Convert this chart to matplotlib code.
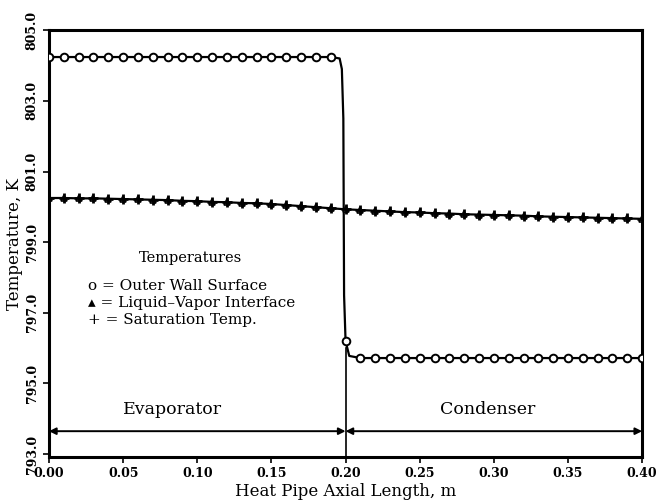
import numpy as np
import matplotlib.pyplot as plt

# Axial positions (m) where markers are drawn
x_pos = [0.00, 0.01, 0.02, 0.03, 0.04, 0.05, 0.06, 0.07, 0.08, 0.09,
         0.10, 0.11, 0.12, 0.13, 0.14, 0.15, 0.16, 0.17, 0.18, 0.19,
         0.20, 0.21, 0.22, 0.23, 0.24, 0.25, 0.26, 0.27, 0.28, 0.29,
         0.30, 0.31, 0.32, 0.33, 0.34, 0.35, 0.36, 0.37, 0.38, 0.39, 0.40]

# Outer wall surface temperature (K)
wall_T = [804.24, 804.24, 804.24, 804.24, 804.24, 804.24, 804.24, 804.24, 804.24, 804.24,
          804.24, 804.24, 804.24, 804.24, 804.24, 804.24, 804.24, 804.24, 804.24, 804.24,
          796.20, 795.72, 795.72, 795.72, 795.72, 795.72, 795.72, 795.72, 795.72, 795.72,
          795.72, 795.72, 795.72, 795.72, 795.72, 795.72, 795.72, 795.72, 795.72, 795.72, 795.72]

# extra points of the wall curve at the evaporator/condenser step
wall_step_x = [0.196, 0.1975, 0.1985, 0.199, 0.2025]
wall_step_T = [804.20, 803.90, 802.50, 797.50, 795.78]

# Liquid-vapor interface temperature (K)
lv_T = [800.25, 800.25, 800.24, 800.24, 800.23, 800.22, 800.21, 800.20, 800.19, 800.17,
        800.16, 800.14, 800.13, 800.11, 800.10, 800.08, 800.05, 800.02, 799.99, 799.96,
        799.93, 799.91, 799.89, 799.87, 799.85, 799.84, 799.82, 799.81, 799.79, 799.78,
        799.77, 799.76, 799.75, 799.73, 799.72, 799.71, 799.70, 799.69, 799.68, 799.67, 799.66]

# Saturation temperature (K)
sat_T = [800.25, 800.25, 800.24, 800.24, 800.23, 800.22, 800.21, 800.20, 800.19, 800.17,
         800.16, 800.14, 800.13, 800.11, 800.10, 800.08, 800.05, 800.02, 799.99, 799.96,
         799.93, 799.91, 799.89, 799.87, 799.85, 799.84, 799.82, 799.81, 799.79, 799.78,
         799.77, 799.76, 799.75, 799.73, 799.72, 799.71, 799.70, 799.69, 799.68, 799.67, 799.66]

x_ticks = [0.00, 0.05, 0.10, 0.15, 0.20, 0.25, 0.30, 0.35, 0.40]
y_ticks = [793.0, 795.0, 797.0, 799.0, 801.0, 803.0, 805.0]

plt.rcParams['font.family'] = ['DejaVu Serif', 'DejaVu Sans']

fig = plt.figure(figsize=(6.62, 5.03), dpi=100)
ax = fig.add_axes([0.074, 0.0915, 0.896, 0.8485])

# wall curve (markers only at the grid points)
line_x = np.concatenate([x_pos, wall_step_x])
line_T = np.concatenate([wall_T, wall_step_T])
order = np.argsort(line_x)
ax.plot(line_x[order], line_T[order], color='black', lw=1.6, zorder=3)
ax.plot(x_pos, wall_T, ls='none', marker='o', ms=5.5, mfc='white', mec='black', mew=1.4, zorder=4)

ax.plot(x_pos, lv_T, color='black', lw=1.6, marker='^', ms=5, mfc='white', mec='black', mew=1.2, zorder=3)
ax.plot(x_pos, sat_T, ls='none', marker='+', ms=7, mec='black', mew=2.0, zorder=4)

# evaporator / condenser divider
ax.axvline(0.2, ymin=0, ymax=(796.0 - 792.92) / (805.0 - 792.92), color='black', lw=1.2, zorder=2)

# section arrows
arrow_y = 793.65
ax.annotate('', xy=(0.0, arrow_y), xytext=(0.2, arrow_y),
            arrowprops=dict(arrowstyle='<|-|>', color='black', lw=1.4, mutation_scale=10, shrinkA=0, shrinkB=0))
ax.annotate('', xy=(0.2, arrow_y), xytext=(0.4, arrow_y),
            arrowprops=dict(arrowstyle='<|-|>', color='black', lw=1.4, mutation_scale=10, shrinkA=0, shrinkB=0))
ax.text(0.083, 794.25, 'Evaporator', ha='center', va='center', fontsize=12.5)
ax.text(0.296, 794.25, 'Condenser', ha='center', va='center', fontsize=12.5)

# legend as text block
ax.text(0.0956, 798.55, 'Temperatures', ha='center', va='center', fontsize=10.5)
ax.text(0.026, 797.75, 'o = Outer Wall Surface', ha='left', va='center', fontsize=11)
ax.text(0.026, 797.27, '\u25b4 = Liquid\u2013Vapor Interface', ha='left', va='center', fontsize=11)
ax.text(0.026, 796.79, '+ = Saturation Temp.', ha='left', va='center', fontsize=11)

ax.set_xlim(0.0, 0.4)
ax.set_ylim(792.92, 805.0)
ax.set_xticks(x_ticks)
ax.set_xticklabels([f'{v:.2f}' for v in x_ticks], fontsize=9, fontweight='bold')
ax.set_yticks(y_ticks)
ax.set_yticklabels([f'{v:.1f}' for v in y_ticks], fontsize=9, fontweight='bold', rotation=90, va='center')
ax.tick_params(direction='out', length=4, width=1.2)

for s in ax.spines.values():
    s.set_linewidth(2.2)

ax.set_xlabel('Heat Pipe Axial Length, m', fontsize=12, labelpad=2)
ax.set_ylabel('Temperature, K', fontsize=12, labelpad=2)

fig.savefig('out.png', dpi=100)
